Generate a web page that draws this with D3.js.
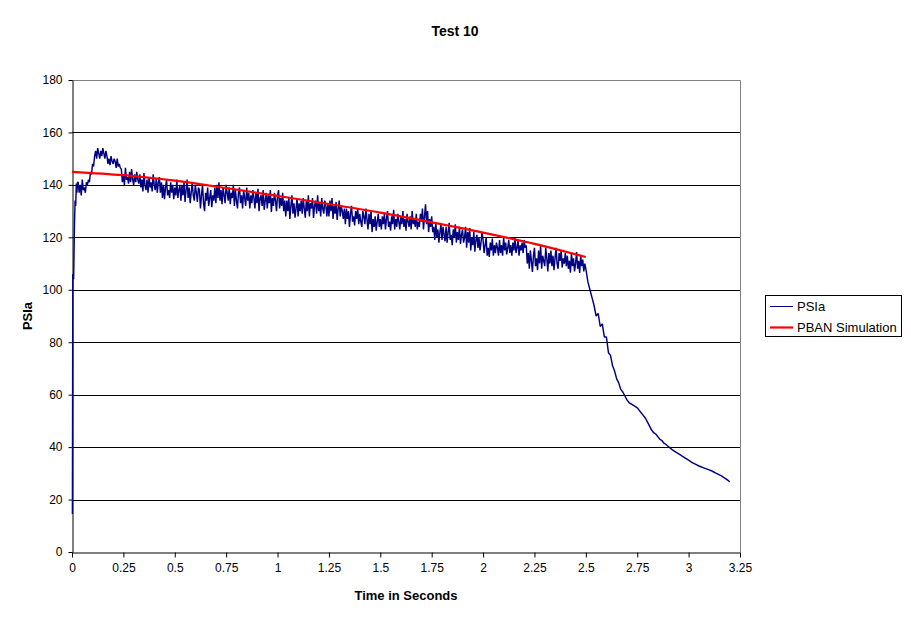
<!DOCTYPE html>
<html>
<head>
<meta charset="utf-8">
<script src="https://cdn.jsdelivr.net/npm/d3@7"></script>
<style>
  html, body { margin: 0; padding: 0; background: #fff; }
  svg text { font-family: Arial, "Liberation Sans", sans-serif; }
</style>
</head>
<body>
<svg id="chart" width="911" height="623"></svg>
<script>
// ---------- DATA ----------
const chartTitle = "Test 10";
const xTitle = "Time in Seconds";
const yTitle = "PSIa";
const seriesNames = ["PSIa", "PBAN Simulation"];
const xTicks = [0, 0.25, 0.5, 0.75, 1, 1.25, 1.5, 1.75, 2, 2.25, 2.5, 2.75, 3, 3.25];
const xTickLabels = ["0", "0.25", "0.5", "0.75", "1", "1.25", "1.5", "1.75", "2", "2.25", "2.5", "2.75", "3", "3.25"];
const yTicks = [0, 20, 40, 60, 80, 100, 120, 140, 160, 180];

// PSIa start-up transient: [time, psi]
const psiaStartup = [
  [0.002, 14.5], [0.004, 106], [0.008, 104], [0.012, 125], [0.015, 134],
  [0.018, 132], [0.021, 140.5], [0.024, 137], [0.027, 141]
];

// PSIa noisy burn phase: samples every 0.005 s from 0.030 s to 2.500 s
const psiaBurnStart = 0.03;
const psiaBurnStep = 0.005;
const psiaBurn = [
  141, 137, 140, 136, 142, 138, 139, 137, 141, 140,
  142, 141, 145, 144, 148, 147,
  151, 153, 150, 154, 152, 150, 153, 151, 154, 152, 150, 153,
  151, 148, 150, 147.5, 151, 149, 148, 150,
  149, 146.5, 150, 147, 148, 146.5,
  146, 141, 144, 140, 146.5, 142, 143, 140.5, 145, 141, 146, 142, 140, 144, 141, 145, 142, 140.5,
  144, 139, 142, 137.5, 144.5, 140, 138, 142, 137, 143, 139, 141, 137.5, 144, 140, 138, 142.5, 137, 141, 143,
  137, 141, 135, 140, 134.5, 139, 142, 136, 138, 135, 141, 137, 140, 134.5, 139, 136, 142, 135, 138, 140,
  134, 140, 136, 141, 133.5, 138, 142, 135, 139, 133, 137, 141, 136, 134, 140, 137, 133.5, 139,
  138, 131, 136, 140, 133, 130, 137, 134, 139, 132, 135, 138, 131.5, 136, 134, 139,
  133, 140, 135, 141, 134, 138, 132.6, 139, 136, 133, 140, 137, 134, 139, 132.6, 137, 135, 140,
  132, 138, 134, 131, 137, 139, 133, 136, 131, 138, 135, 132, 139, 134, 137, 131, 136, 133, 138, 135,
  131, 137, 133, 138.5, 130, 135, 136, 132, 138, 130.5, 134, 137, 131, 136, 133, 138, 129.7, 135, 132, 137,
  134, 130, 136, 138, 131, 135, 132, 137, 130, 134,
  128, 134, 130, 135, 127, 132, 136, 129, 133, 127.5, 131, 135, 128, 133, 130, 134,
  129, 135, 131, 127.5, 134, 130, 136, 128, 133, 131, 135, 127.4, 132, 134, 129, 136, 130, 133, 128, 135,
  131, 129, 134, 132, 128, 133,
  128, 134, 130, 135, 127, 132, 129, 133.5, 126.6, 131, 134, 128, 132, 130, 127, 131,
  125, 131, 127, 130, 124, 129, 132, 126, 128, 124.5, 130, 127, 131, 125, 129, 126, 124, 130, 128, 125, 131, 127,
  123, 129, 125, 130, 122, 127, 124, 128, 122.5, 126, 129, 124, 127, 123, 128, 125,
  129, 123, 127, 130, 124, 126, 122.5, 128, 125, 130.5, 123, 127, 124, 129, 126, 123, 128, 125, 130, 124,
  127, 122.5, 129, 126, 124, 128, 123, 130, 125, 127, 124, 129, 123, 126,
  124, 129, 126, 131, 123, 128, 132.6, 125, 130, 122, 127, 124, 128, 122,
  124, 119, 125.8, 120, 123, 118, 122, 125, 119, 124, 121, 118.5,
  124, 118, 122, 125.5, 119, 121, 117, 123, 120, 125, 118, 122, 119, 124, 117.5, 121, 123, 118, 120, 124,
  116, 122, 118, 123.5, 115, 120, 117, 122, 114.5, 119, 121, 116, 120, 115, 118, 122,
  119, 114, 117, 120, 113, 116, 112.5, 118, 115, 119.5, 113, 117, 114, 118, 116, 113,
  119, 114, 117, 113, 120, 115, 118, 113.5, 116, 119, 114, 117, 113, 118, 115, 120, 114, 116, 119, 113,
  117, 115, 118, 114, 119, 116,
  117, 110, 114, 108, 115, 111, 106.8, 113, 116, 109, 112, 107.5, 115, 110, 117, 108, 113, 111, 109, 116,
  112, 107, 114, 110,
  115, 109, 113, 107.5, 112, 116, 110, 108, 114, 111, 115, 108.5, 112, 110, 114, 109,
  113, 108, 111, 106.5, 114, 109, 112, 107, 110, 114.4, 108, 111, 106.4, 113, 109, 111.5, 107, 110, 108
];

// PSIa tail-off: samples every 0.01 s from 2.51 s to 3.20 s
const psiaTailStart = 2.51;
const psiaTailStep = 0.01;
const psiaTail = [
  103, 100, 97, 94, 90, 91, 86, 87, 82, 82, 76, 75, 71, 69, 66, 64.5, 62, 61, 59.5, 58,
  57, 56.5, 56, 55.5, 55, 54, 53, 52, 51, 49.5, 48, 46.5, 45.5, 45, 44, 43, 42.5, 41.5, 41, 40.3,
  39.7, 39, 38.5, 38, 37.5, 37, 36.5, 36, 35.5, 35,
  34.5, 34, 33.6, 33.2, 32.8, 32.5, 32.2, 31.9, 31.6, 31.3,
  31, 30.6, 30.2, 29.8, 29.4, 29, 28.5, 28, 27.4, 26.8
];

// PBAN Simulation
const pbanTime = [0, 0.25, 0.5, 0.75, 1, 1.25, 1.5, 1.75, 2, 2.25, 2.5];
const pbanValues = [145, 143.7, 141.6, 138.8, 135.8, 132.7, 129.4, 125.7, 121.8, 117.5, 112.5];

// ---------- CHART ----------
const svg = d3.select("#chart");
const margin = { left: 72, top: 80, right: 740, bottom: 552 };

const x = d3.scaleLinear().domain([0, 3.25]).range([margin.left, margin.right]);
const y = d3.scaleLinear().domain([0, 180]).range([margin.bottom, margin.top]);

svg.append("rect").attr("width", 911).attr("height", 623).attr("fill", "#fff");

// gridlines
svg.append("g").selectAll("line")
  .data(yTicks.filter(d => d > 0 && d < 180))
  .join("line")
  .attr("x1", margin.left).attr("x2", margin.right)
  .attr("y1", d => Math.round(y(d)) + 0.5).attr("y2", d => Math.round(y(d)) + 0.5)
  .attr("stroke", "#000").attr("stroke-width", 1);

// plot-area border (top/right grey)
svg.append("path")
  .attr("d", `M${margin.left},${margin.top + 0.5}H${margin.right + 0.5}V${margin.bottom}`)
  .attr("fill", "none").attr("stroke", "#808080").attr("stroke-width", 1);

// axes
const xAxis = d3.axisBottom(x).tickValues(xTicks)
  .tickFormat((d, i) => xTickLabels[i]).tickSize(5).tickSizeOuter(0).tickPadding(6);
const gx = svg.append("g").attr("transform", `translate(0,${Math.round(y(0)) + 0.5})`).call(xAxis);
gx.select(".domain").attr("stroke", "#000");
gx.selectAll(".tick line").attr("stroke", "#000");
gx.selectAll("text").attr("font-size", 12).attr("fill", "#000")
  .attr("font-family", "Arial, 'Liberation Sans', sans-serif");

const yAxis = d3.axisLeft(y).tickValues(yTicks).tickSize(4).tickSizeOuter(0).tickPadding(6);
const gy = svg.append("g").attr("transform", `translate(${margin.left + 0.5},0)`).call(yAxis);
gy.select(".domain").attr("stroke", "#000");
gy.selectAll(".tick line").attr("stroke", "#000");
gy.selectAll("text").attr("font-size", 12).attr("fill", "#000")
  .attr("font-family", "Arial, 'Liberation Sans', sans-serif");

// PSIa data points
const psiaPoints = psiaStartup.map(d => ({ t: d[0], v: d[1] }))
  .concat(psiaBurn.map((v, i) => ({ t: psiaBurnStart + i * psiaBurnStep, v })))
  .concat(psiaTail.map((v, i) => ({ t: psiaTailStart + i * psiaTailStep, v })));

const line = d3.line().x(d => x(d.t)).y(d => y(d.v));

svg.append("path")
  .datum(psiaPoints)
  .attr("d", line)
  .attr("fill", "none").attr("stroke", "#000080").attr("stroke-width", 1.45)
  .attr("stroke-linejoin", "bevel");

const pbanPoints = pbanTime.map((t, i) => ({ t, v: pbanValues[i] }));
svg.append("path")
  .datum(pbanPoints)
  .attr("d", d3.line().x(d => x(d.t)).y(d => y(d.v)).curve(d3.curveMonotoneX))
  .attr("fill", "none").attr("stroke", "#FF0000").attr("stroke-width", 2.2);

// titles
svg.append("text").attr("x", 455).attr("y", 36).attr("text-anchor", "middle")
  .attr("font-size", 14).attr("font-weight", "bold").text(chartTitle);
svg.append("text").attr("x", (margin.left + margin.right) / 2).attr("y", 600).attr("text-anchor", "middle")
  .attr("font-size", 13).attr("font-weight", "bold").text(xTitle);
svg.append("text").attr("transform", `translate(32,${(margin.top + margin.bottom) / 2}) rotate(-90)`)
  .attr("text-anchor", "middle").attr("font-size", 13).attr("font-weight", "bold").text(yTitle);

// legend
const lg = svg.append("g");
lg.append("rect").attr("x", 765.5).attr("y", 295.5).attr("width", 136).attr("height", 41)
  .attr("fill", "#fff").attr("stroke", "#000").attr("stroke-width", 1);
const legendColors = ["#000080", "#FF0000"];
const legendWidths = [1, 2.2];
seriesNames.forEach((name, i) => {
  const ly = 306.5 + i * 21;
  lg.append("line").attr("x1", 770).attr("x2", 793).attr("y1", ly).attr("y2", ly)
    .attr("stroke", legendColors[i]).attr("stroke-width", legendWidths[i]);
  lg.append("text").attr("x", 797).attr("y", ly + 4.5).attr("font-size", 13).text(name);
});
</script>
</body>
</html>
